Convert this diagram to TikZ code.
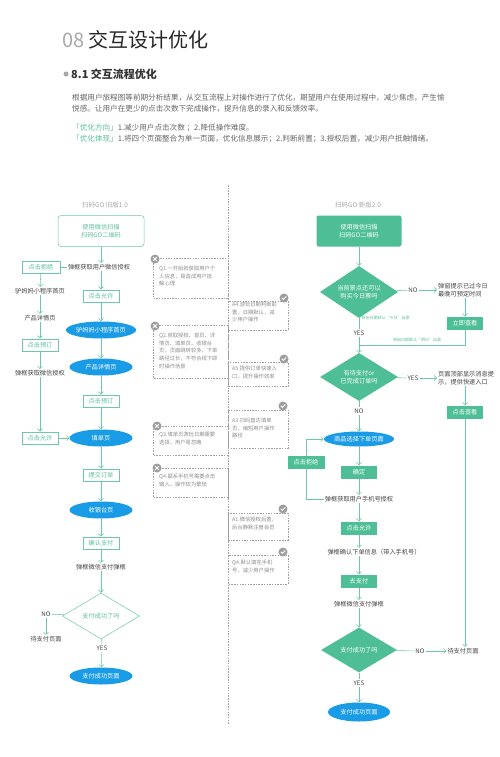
\documentclass[tikz,border=0pt]{standalone}
\usepackage{fontspec}
\setmainfont{Noto Sans CJK SC}
\usetikzlibrary{shapes.geometric,arrows.meta,calc}
\definecolor{tealln}{HTML}{6CC9A8}
\definecolor{tealtx}{HTML}{5BBF9B}
\definecolor{greenf}{HTML}{4DBE96}
\definecolor{bluef}{HTML}{1A9BE6}
\definecolor{txt}{HTML}{444444}
\definecolor{lgray}{HTML}{A8A8A8}
\definecolor{dgray}{HTML}{A0A0A0}
\definecolor{qtxt}{HTML}{8C8C8C}
\definecolor{iconc}{HTML}{9E9E9E}
\definecolor{bodytx}{HTML}{666666}
\tikzset{
  fs/.style={font=\fontsize{6.2}{7.6}\selectfont},
  lbl/.style={fs,text=txt,inner sep=1pt,align=center},
  obox/.style={fs,draw=tealln,line width=0.5pt,text=tealtx,minimum width=36pt,minimum height=12.5pt,inner sep=1pt},
  fbox/.style={fs,fill=greenf,text=white,minimum width=36pt,minimum height=13pt,inner sep=1pt},
  ell/.style={fs,ellipse,fill=bluef,text=white,minimum width=63pt,minimum height=17pt,inner sep=0pt},
  odia/.style={fs,diamond,aspect=1.6,draw=tealln,line width=0.5pt,text=tealtx,inner sep=0pt,align=center},
  fdia/.style={fs,diamond,aspect=1.6,fill=greenf,text=white,inner sep=0pt,align=center},
  arr/.style={draw=tealln,line width=0.55pt,-{Straight Barb[length=2.5pt,width=5pt]}},
  ln/.style={draw=tealln,line width=0.55pt},
  qb/.style={draw=dgray,dash pattern=on 1.5pt off 1.2pt,line width=0.45pt},
  qt/.style={font=\fontsize{5.3}{7.6}\selectfont,text=qtxt,align=left,inner sep=0pt,anchor=north west},
  sm/.style={font=\fontsize{4}{5}\selectfont,text=tealtx,inner sep=0.5pt},
  qic/.pic={\fill[iconc] (0,0) circle (4.5); \draw[white,line width=0.8pt] (-1.8,-1.8)--(1.8,1.8) (-1.8,1.8)--(1.8,-1.8);},
  aic/.pic={\fill[iconc] (0,0) circle (4.5); \draw[white,line width=0.9pt] (-2.2,-0.2)--(-0.6,1.4)--(2.2,-1.6);},
}
\begin{document}
\begin{tikzpicture}[x=1pt,y=-1pt]
\useasboundingbox (0,0) rectangle (500,757);
\fill[white] (0,0) rectangle (500,757);
% ---------- heading ----------
\node[anchor=west,inner sep=0pt,font=\fontsize{20}{22}\selectfont,text=black!85] (title) at (62,40) {{\color{lgray}08} 交互设计优化};
\fill[lgray] (66,74) circle (2.5);
\node[anchor=west,inner sep=0pt,font=\bfseries\fontsize{11}{13}\selectfont,text=black!80] (sec) at (71,74) {8.1 交互流程优化};
\node[anchor=west,inner sep=0pt,font=\fontsize{7.6}{9}\selectfont,text=bodytx] (p1) at (72,98) {根据用户旅程图等前期分析结果，从交互流程上对操作进行了优化，期望用户在使用过程中，减少焦虑，产生愉};
\node[anchor=west,inner sep=0pt,font=\fontsize{7.6}{9}\selectfont,text=bodytx] (p2) at (72,109) {悦感。让用户在更少的点击次数下完成操作，提升信息的录入和反馈效率。};
\node[anchor=west,inner sep=0pt,font=\fontsize{7.6}{9}\selectfont,text=bodytx] (p3) at (72,128) {{\color{tealtx}「优化方向」}1.减少用户点击次数 ；2.降低操作难度。};
\node[anchor=west,inner sep=0pt,font=\fontsize{7.6}{9}\selectfont,text=bodytx] (p4) at (72,139) {{\color{tealtx}「优化体现」}1.将四个页面整合为单一页面，优化信息展示；2.判断前置；3.授权后置，减少用户抵触情绪。};
% ---------- column headers ----------
\node[font=\fontsize{6.5}{8}\selectfont,text=lgray] (h1) at (105,205) {扫码GO 旧版1.0};
\node[font=\fontsize{6.5}{8}\selectfont,text=lgray] (h2) at (358,205) {扫码GO 新版2.0};
% ---------- centre dashed line ----------
\draw[qb] (228,185) -- (228,725);
% ---------- Q boxes ----------
\draw[qb] (153,258) rectangle (228,298);
\pic at (155,259) {qic};
\node[qt] (q1) at (159,266) {Q1.一开始就获取用户个\\人信息，易造成用户抵\\触心理};
\draw[qb] (153,325) rectangle (228,378);
\pic at (155,326) {qic};
\node[qt] (q2) at (159,333) {Q2.获取授权、首页、详\\情页、填单页、收银台\\页，页面跳转较多，下单\\路径过长，不符合线下即\\时操作场景};
\draw[qb] (153,426) rectangle (228,455);
\pic at (157,426) {qic};
\node[qt] (q3) at (159,432) {Q3.填单页游玩日期需要\\选择，用户易忽略};
\draw[qb] (153,468) rectangle (228,497);
\pic at (157,468) {qic};
\node[qt] (q4) at (159,474) {Q4.联系手机号需要点击\\输入，操作较为繁琐};
% ---------- A boxes ----------
\draw[qb] (228,301) rectangle (288,330);
\pic at (284,298) {aic};
\node[qt] (a4) at (232,302) {A4.游玩日期判断前\\置，日期默认，减\\少用户操作};
\draw[qb] (228,362) rectangle (288,386);
\pic at (284,359) {aic};
\node[qt] (a5) at (232,366) {A5.提供订单快速入\\口，提升操作效率};
\draw[qb] (228,410) rectangle (288,448);
\pic at (283,406) {aic};
\node[qt] (a3) at (232,418) {A3.扫码直达填单\\页，缩短用户操作\\路径};
\draw[qb] (228,513) rectangle (288,540);
\pic at (283,509) {aic};
\node[qt] (a1) at (232,517) {A1.微信授权后置，\\后台静默注册会员};
\draw[qb] (228,555) rectangle (288,584);
\pic at (283,552) {aic};
\node[qt] (a6) at (232,560) {Q4.默认填充手机\\号，减少用户操作};
% ---------- left flow (old) ----------
\node[fs,draw=tealln,line width=0.5pt,text=tealtx,rounded corners=3pt,minimum width=86pt,minimum height=31pt,align=center] (Lscan) at (101,231) {使用微信扫描\\扫码GO二维码};
\node[lbl] (Lauth) at (99,267) {弹框获取用户微信授权};
\node[obox,minimum width=38pt] (Lrej) at (41,267) {点击拒绝};
\node[lbl] (Lhome2) at (40,291) {驴妈妈小程序首页};
\node[lbl] (Ldet2) at (40,318) {产品详情页};
\node[obox] (Lbook2) at (40,345) {点击预订};
\node[lbl] (Lauth2) at (40,373) {弹框获取微信授权};
\node[obox] (Lallow2) at (40,438) {点击允许};
\node[obox] (Lallow) at (101,296) {点击允许};
\node[ell] (Lhome) at (101,330) {驴妈妈小程序首页};
\node[ell] (Ldet) at (101,367) {产品详情页};
\node[obox] (Lbook) at (101,401) {点击预订};
\node[ell] (Lfill) at (101,438) {填单页};
\node[obox] (Lsub) at (101,475) {提交订单};
\node[ell] (Lcash) at (101,510) {收银台页};
\node[obox] (Lpay) at (101,543) {确认支付};
\node[lbl] (Lwx) at (101,567) {弹框微信支付弹框};
\node[odia,minimum width=77pt,minimum height=46pt] (Ldia) at (101,616) {支付成功了吗};
\node[lbl] (Lno) at (46,614) {NO};
\node[lbl] (Lwait) at (46,639) {待支付页面};
\node[lbl] (Lyes) at (102,648) {YES};
\node[ell] (Lsucc) at (101,676) {支付成功页面};
\draw[arr] (Lscan) -- (Lscan |- Lauth.north);
\draw[ln] (Lauth) -- (Lrej);
\draw[arr] (Lscan |- Lauth.south) -- (Lallow);
\draw[arr] (Lallow) -- (Lhome);
\draw[arr] (Lhome) -- (Ldet);
\draw[arr] (Ldet) -- (Lbook);
\draw[arr] (Lbook) -- (Lfill);
\draw[arr] (Lfill) -- (Lsub);
\draw[arr] (Lsub) -- (Lcash);
\draw[arr] (Lcash) -- (Lpay);
\draw[arr] (Lpay) -- (Lwx);
\draw[arr] (Lwx) -- (Ldia);
\draw[ln] (Ldia) -- (Lno);
\draw[arr] (Lno) -- (Lwait);
\draw[ln] (Ldia) -- (Lyes);
\draw[arr] (Lyes) -- (Lsucc);
\draw[arr] (Lrej) -- (Lhome2);
\draw[arr] (Lhome2) -- (Ldet2);
\draw[arr] (Ldet2) -- (Lbook2);
\draw[arr] (Lbook2) -- (Lauth2);
\draw[arr] (Lauth2) -- (Lallow2);
\draw[arr] (Lallow2) -- (Lfill);
% ---------- right flow (new) ----------
\node[fs,fill=greenf,text=white,rounded corners=2pt,minimum width=85pt,minimum height=31pt,align=center] (Rscan) at (359,231) {使用微信扫描\\扫码GO二维码};
\node[fdia,minimum width=78pt,minimum height=52pt] (Rd1) at (359,292) {当前景点还可以\\购买今日票吗};
\node[lbl] (Rno1) at (413,290) {NO};
\node[lbl,anchor=west,align=left] (Rt1) at (437,290) {弹窗提示已过今日\\最晚可预定时间};
\node[fbox] (Rview) at (465,323) {立即查看};
\node[sm,anchor=west] (Rsm1) at (361,318) {原始日期默认“今日”出票};
\node[lbl] (Ryes1) at (359,333) {YES};
\node[sm] (Rsm2) at (417,340) {原始日期默认“明日”出票};
\coordinate (Rj) at (359,345);
\node[fdia,minimum width=78pt,minimum height=48pt] (Rd2) at (359,377) {有待支付or\\已完成订单吗};
\node[lbl] (Ryes2) at (413,378) {YES};
\node[lbl,anchor=west,align=left] (Rt2) at (437,378) {页面顶部显示消息提\\示，提供快速入口};
\node[fbox] (Rcheck) at (465,412) {点击查看};
\node[lbl] (Rno2) at (359,411) {NO};
\node[ell,minimum width=62pt,minimum height=15pt] (Rsel) at (359,439) {商品选择下单页面};
\node[fbox] (Rok) at (359,472) {确定};
\node[lbl] (Rphone) at (359,499) {弹框获取用户手机号授权};
\coordinate (Rc1) at (306,499);
\coordinate (Rc2) at (306,439);
\node[lbl] (Rconf) at (374,552) {弹框确认下单信息（带入手机号）};
\node[fbox] (Rallow) at (359,528) {点击允许};
\node[fbox] (Rgo) at (359,581) {去支付};
\node[lbl] (Rwx) at (359,604) {弹框微信支付弹框};
\node[fdia,minimum width=76pt,minimum height=45pt] (Rd3) at (359,650) {支付成功了吗};
\node[lbl] (Rno3) at (420,651) {NO};
\node[lbl] (Rwait) at (463,651) {待支付页面};
\node[lbl] (Ryes3) at (359,683) {YES};
\node[ell,minimum width=62pt,minimum height=19pt] (Rsucc) at (359,712) {支付成功页面};
\draw[arr] (Rscan) -- (Rd1);
\draw[ln] (Rd1) -- (Rno1);
\draw[arr] (Rno1) -- (Rt1);
\draw[arr] (Rt1.south -| Rview) -- (Rview);
\draw[ln] (Rd1) -- (Ryes1);
\draw[ln] (Rview) -- (Rview |- Rj) -- (Rj);
\draw[arr] (Ryes1) -- (Rd2);
\draw[ln] (Rd2) -- (Ryes2);
\draw[arr] (Ryes2) -- (Rt2);
\draw[arr] (Rt2.south -| Rcheck) -- (Rcheck);
\draw[arr] (Rcheck) -- (Rcheck |- Rwait.north);
\draw[ln] (Rd2) -- (Rno2);
\draw[arr] (Rno2) -- (Rsel);
\draw[arr] (Rsel) -- (Rok);
\draw[arr] (Rok) -- (Rphone);
\draw[ln] (Rphone) -- (Rc1) -- (Rc2);
\draw[arr] (Rc2) -- (Rsel);
\node[fbox,minimum width=37pt] (Rrej) at (306,462) {点击拒绝};
\draw[arr] (Rphone) -- (Rallow);
\draw[arr] (Rallow) -- (Rallow |- Rconf.north);
\draw[arr] (Rallow |- Rconf.south) -- (Rgo);
\draw[arr] (Rgo) -- (Rwx);
\draw[arr] (Rwx) -- (Rd3);
\draw[ln] (Rd3) -- (Rno3);
\draw[arr] (Rno3) -- (Rwait);
\draw[ln] (Rd3) -- (Ryes3);
\draw[arr] (Ryes3) -- (Rsucc);
\end{tikzpicture}
\end{document}
